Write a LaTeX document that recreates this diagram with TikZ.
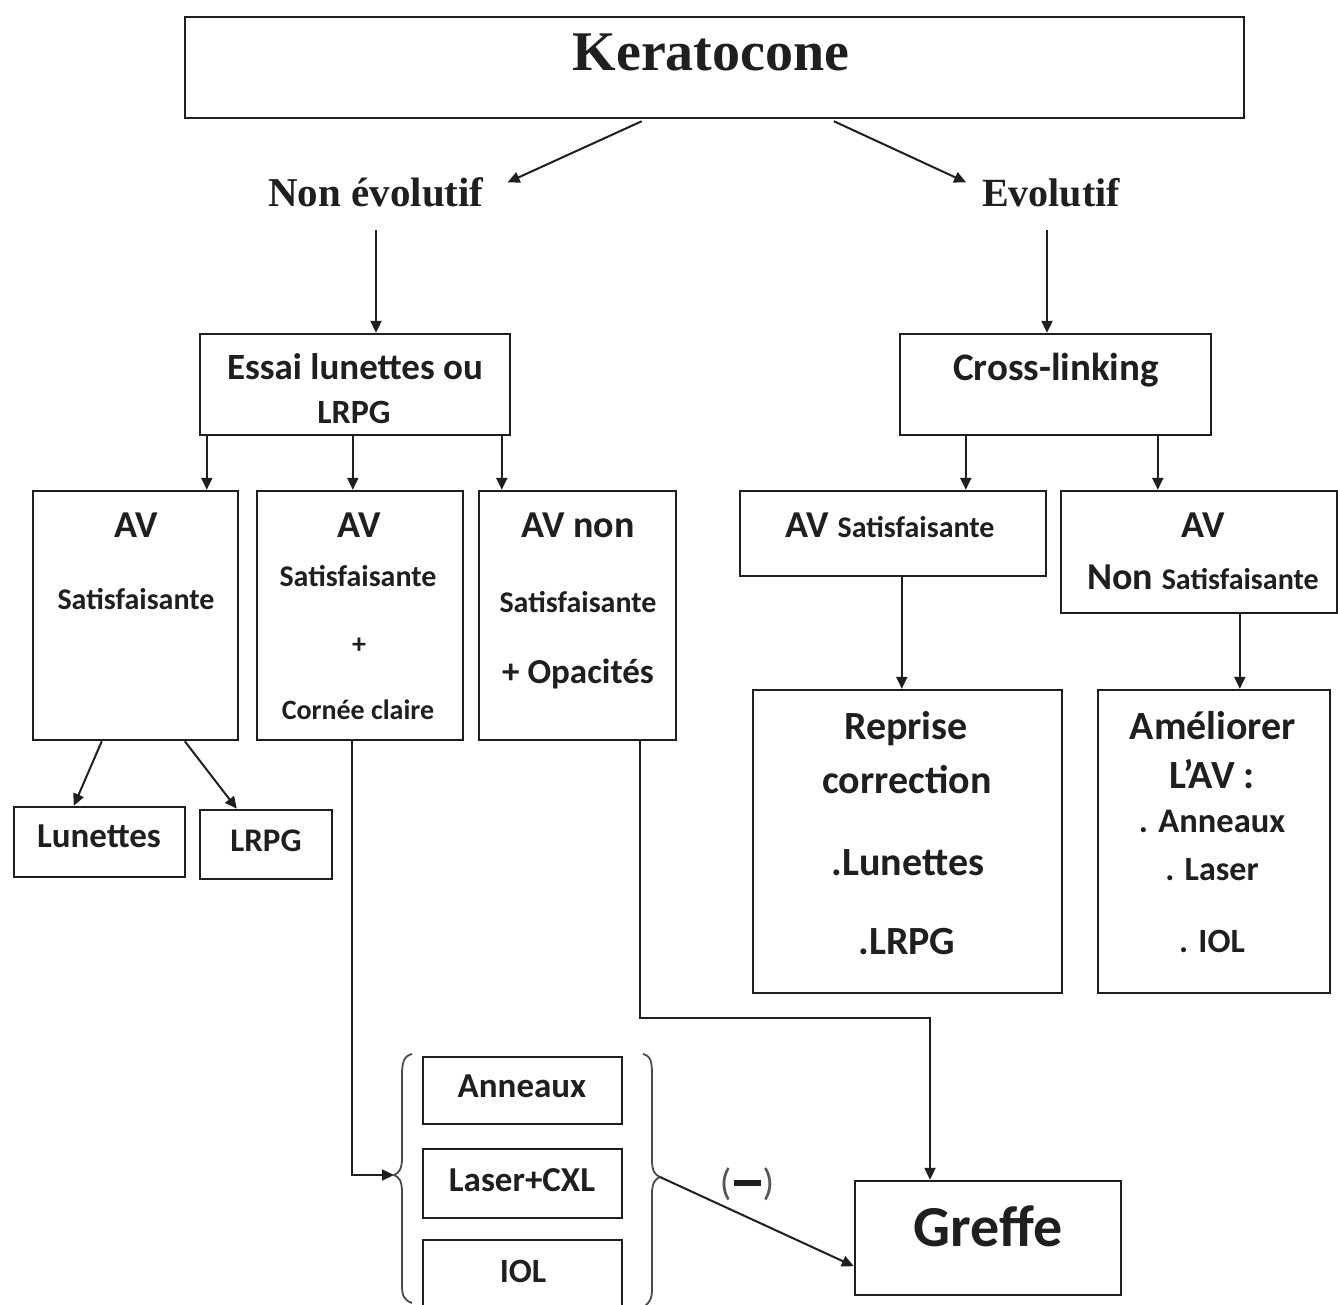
\documentclass[tikz,border=0pt]{standalone}
\usepackage{fontspec}
\setmainfont{Liberation Serif}
\newfontfamily\calb{Carlito}
\usetikzlibrary{arrows.meta,calc}
\definecolor{ink}{gray}{0.12}
\begin{document}
\begin{tikzpicture}[x=1pt,y=-1pt,line width=2pt,
  box/.style={draw=ink,inner sep=0pt,line width=2.4pt},
  t/.style={inner sep=0pt,anchor=base,yshift={-0.32*#1pt},text=ink,font=\calb\bfseries\fontsize{#1}{#1}\selectfont},
  s/.style={inner sep=0pt,anchor=base,yshift={-0.33*#1pt},text=ink,font=\bfseries\fontsize{#1}{#1}\selectfont},
  arr/.style={draw=ink,-{Triangle[length=12pt,width=11pt]},line width=2pt},
  brace/.style={draw=ink!80,line width=1.8pt}]
\clip (0,0) rectangle (1338,1304);
\fill[white] (0,0) rectangle (1338,1304);

% boxes
\node[box,minimum width=1059pt,minimum height=101pt] (k) at (714.5,67.5) {};
\node[box,minimum width=310pt,minimum height=101pt] (essai) at (355,384.5) {};
\node[box,minimum width=311pt,minimum height=101pt] (cross) at (1055.5,384.5) {};
\node[box,minimum width=205pt,minimum height=249pt] (av1) at (135.5,615.5) {};
\node[box,minimum width=206pt,minimum height=249pt] (av2) at (360,615.5) {};
\node[box,minimum width=197pt,minimum height=249pt] (av3) at (577.5,615.5) {};
\node[box,minimum width=171pt,minimum height=70pt] (lun) at (99.5,842) {};
\node[box,minimum width=132pt,minimum height=69pt] (lrpg) at (266,844.5) {};
\node[box,minimum width=306pt,minimum height=85pt] (avs) at (893,533.5) {};
\node[box,minimum width=276pt,minimum height=122pt] (avn) at (1199,552) {};
\node[box,minimum width=309pt,minimum height=303pt] (rep) at (907.5,841.5) {};
\node[box,minimum width=232pt,minimum height=303pt] (ame) at (1214,841.5) {};
\node[box,minimum width=199pt,minimum height=67pt] (ann) at (522.5,1090.5) {};
\node[box,minimum width=199pt,minimum height=69pt] (las) at (522.5,1183.5) {};
\node[box,minimum width=199pt,minimum height=70pt] (iol) at (522.5,1275) {};
\node[box,minimum width=266pt,minimum height=114pt] (greffe) at (988,1238) {};

% texts
\node[s=56] (tk) at (711,52) {Keratocone};
\node[s=41] (ne) at (376,193) {Non évolutif};
\node[s=40] (ev) at (1051,193) {Evolutif};
\node[t=37] (te1) at (355,368) {Essai lunettes ou};
\node[t=34] (te2) at (354,413) {LRPG};
\node[t=39] (tc) at (1056,368) {Cross-linking};
\node[t=38] (t11) at (136,525) {AV};
\node[t=30] (t12) at (136,600) {Satisfaisante};
\node[t=38] (t21) at (359,525) {AV};
\node[t=30] (t22) at (358,577) {Satisfaisante};
\node[t=28] (t23) at (359,645) {+};
\node[t=28] (t24) at (358,711) {Cornée claire};
\node[t=38] (t31) at (578,525) {AV non};
\node[t=30] (t32) at (578,603) {Satisfaisante};
\node[t=35] (t33) at (578,672) {+ Opacités};
\node[t=35] (tl) at (99,836) {Lunettes};
\node[t=33] (tlr) at (266,841) {LRPG};
\node[t=38] (tavs) at (890,525) {AV {\fontsize{30}{30}\selectfont Satisfaisante}};
\node[t=38] (tn1) at (1203,525) {AV};
\node[t=38] (tn2) at (1203,577) {Non {\fontsize{30}{30}\selectfont Satisfaisante}};
\node[t=40] (tr1) at (906,727) {Reprise};
\node[t=40] (tr2) at (907,781) {correction};
\node[t=40] (tr3) at (908,863) {.Lunettes};
\node[t=40] (tr4) at (907,942) {.LRPG};
\node[t=40] (ta1) at (1213,727) {Améliorer};
\node[t=40] (ta2) at (1212,776) {L’AV :};
\node[t=34.5] (ta3) at (1212,821) {. Anneaux};
\node[t=34] (ta4) at (1212,870) {. Laser};
\node[t=34] (ta5) at (1212,942) {. IOL};
\node[t=35] (tann) at (522,1086) {Anneaux};
\node[t=35] (tlas) at (522,1180) {Laser+CXL};
\node[t=34] (tiol) at (523,1272) {IOL};
\node[t=58] (tg) at (988,1228) {Greffe};
\node[inner sep=0pt,text=ink] (minus) at (747,1184)
  {{\calb\fontsize{38}{38}\selectfont\textcolor{ink!75}{(}\kern2pt\rule[9pt]{27pt}{6pt}\kern2pt\textcolor{ink!75}{)}}};

% braces
\coordinate (lb) at (394,1175);
\coordinate (rb) at (660,1177);
\draw[brace] (412,1054) .. controls (404,1056) and (402,1062) .. (402,1075) -- (402,1158)
  .. controls (402,1169) and (399,1173) .. (lb) .. controls (399,1177) and (402,1181) .. (402,1192)
  -- (402,1285) .. controls (402,1296) and (404,1300) .. (412,1303);
\draw[brace] (643,1054) .. controls (651,1056) and (652,1062) .. (652,1075) -- (652,1160)
  .. controls (652,1171) and (655,1175) .. (rb) .. controls (655,1179) and (652,1183) .. (652,1194)
  -- (652,1290) .. controls (652,1298) and (650,1302) .. (645,1306);

% connectors
\coordinate (g) at ($(greffe.north)+(-58,0)$);
\coordinate (a3) at ($(av3.south)+(62,0)$);
\draw[arr] ($(k.south west)+(458,2)$) -- ($(ne.east)+(23,-10)$);
\draw[arr] ($(k.south west)+(650,2)$) -- ($(ev.west)+(-15,-10)$);
\draw[arr] ($(ne.south)+(0,22)$) coordinate (neb) -- (neb |- essai.north);
\draw[arr] ($(ev.south)+(-4,22)$) coordinate (evb) -- (evb |- cross.north);
\draw[arr] ($(essai.south west)+(8,0)$) coordinate (e1) -- (e1 |- av1.north);
\draw[arr] ($(essai.south west)+(154,0)$) coordinate (e2) -- (e2 |- av2.north);
\draw[arr] ($(essai.south west)+(303,0)$) coordinate (e3) -- (e3 |- av3.north);
\draw[arr] ($(cross.south west)+(67,0)$) coordinate (c1) -- (c1 |- avs.north);
\draw[arr] ($(cross.south west)+(259,0)$) coordinate (c2) -- (c2 |- avn.north);
\draw[arr] ($(avs.south west)+(163,0)$) coordinate (s1) -- (s1 |- rep.north);
\draw[arr] ($(avn.south west)+(180,0)$) coordinate (n1) -- (n1 |- ame.north);
\draw[arr] ($(av1.south west)+(70,0)$) -- ($(lun.north west)+(61,0)$);
\draw[arr] ($(av1.south west)+(153,0)$) -- ($(lrpg.north west)+(38,0)$);
\draw[arr] ($(av2.south)+(-8,0)$) coordinate (a2) -- (a2 |- lb) -- (lb);
\draw[arr] (a3) -- (a3 |- 0,1018) -- (g |- 0,1018) -- (g);
\draw[arr] (rb) -- ($(greffe.south west)+(0,-30)$);
\end{tikzpicture}
\end{document}
